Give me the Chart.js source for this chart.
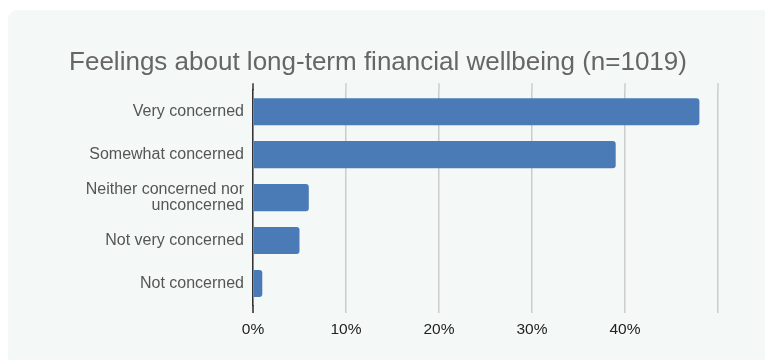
<!DOCTYPE html>
<html>
<head>
<meta charset="utf-8">
<script src="https://cdn.jsdelivr.net/npm/chart.js@4"></script>
<style>
  body { margin: 0; background: #fff; }
  #panel { position: absolute; left: 8px; top: 10px; right: 0; bottom: 0; background: #f4f9f8; border-radius: 9px 0 0 0; }
  #chart { position: absolute; left: 0; top: 0; }
</style>
</head>
<body>
<div id="panel"></div>
<canvas id="chart" width="765" height="360"></canvas>
<script>
// data
const categories = [
  'Very concerned',
  'Somewhat concerned',
  ['Neither concerned nor', 'unconcerned'],
  'Not very concerned',
  'Not concerned'
];
const shares = [48, 39, 6, 5, 1];
const tickLabels = ['0%', '10%', '20%', '30%', '40%', ''];

// the grid lines in the picture run a little past the plot area
const extendLines = {
  id: 'extendLines',
  afterDraw(chart) {
    const ctx = chart.ctx;
    const area = chart.chartArea;
    const x = chart.scales.x;
    ctx.save();
    x.ticks.forEach((t, i) => {
      const px = x.getPixelForValue(t.value);
      ctx.strokeStyle = i === 0 ? '#333' : '#cccccc';
      ctx.lineWidth = 1.5;
      ctx.beginPath();
      ctx.moveTo(px, area.top - 7);
      ctx.lineTo(px, area.top);
      if (i === 0) {
        ctx.moveTo(px, area.bottom);
        ctx.lineTo(px, area.bottom + 8);
      }
      ctx.stroke();
    });
    ctx.restore();
  }
};

new Chart(document.getElementById('chart').getContext('2d'), {
  type: 'bar',
  data: {
    labels: categories,
    datasets: [{
      data: shares,
      backgroundColor: '#4a7bb7',
      borderRadius: 3,
      borderSkipped: 'start',
      barPercentage: 0.63,
      categoryPercentage: 1
    }]
  },
  options: {
    indexAxis: 'y',
    responsive: false,
    animation: false,
    layout: { padding: { left: 38, right: 47, top: 0, bottom: 0 } },
    plugins: {
      legend: { display: false },
      tooltip: { enabled: false },
      title: {
        display: true,
        text: 'Feelings about long-term financial wellbeing (n=1019)',
        color: '#666',
        font: { family: 'Liberation Sans, Arial, sans-serif', size: 26, weight: 'normal' },
        padding: { top: 47, bottom: 12 }
      }
    },
    scales: {
      x: {
        min: 0,
        max: 50,
        ticks: {
          stepSize: 10,
          color: '#222',
          padding: 7,
          font: { family: 'Liberation Sans, Arial, sans-serif', size: 15.5 },
          callback: (v, i) => tickLabels[i]
        },
        grid: { color: '#cccccc', lineWidth: 1.5, drawTicks: true, tickLength: 8 },
        border: { display: false },
        afterFit: s => { s.height = 55; }
      },
      y: {
        ticks: {
          color: '#555',
          padding: 9,
          font: { family: 'Liberation Sans, Arial, sans-serif', size: 16, lineHeight: 1.05 }
        },
        grid: { display: false, drawTicks: false },
        border: { display: true, color: '#333', width: 1.5 },
        afterFit: s => { s.width = 215; }
      }
    }
  },
  plugins: [extendLines]
});
</script>
</body>
</html>
